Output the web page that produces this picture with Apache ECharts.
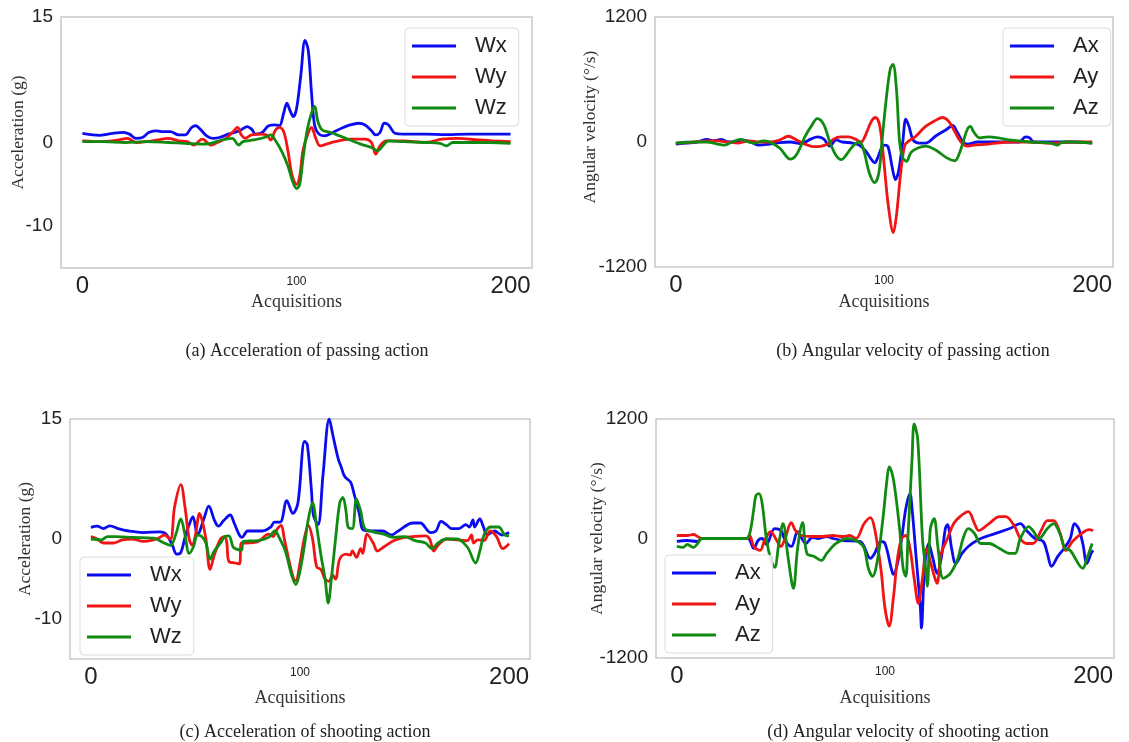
<!DOCTYPE html>
<html>
<head>
<meta charset="utf-8">
<script src="https://cdn.jsdelivr.net/npm/echarts@6/dist/echarts.min.js"></script>
<style>
  html, body { margin: 0; padding: 0; background: #fff; }
  #main { width: 1129px; height: 742px; }
</style>
</head>
<body>
<div id="main"></div>
<script>
// (a) passing, acceleration (g) -- [acquisition, value]
var passWx = [[0,1.1],[5,0.9],[8,0.85],[12,1.0],[16,1.15],[19,1.2],[22,1.0],[25,0.5],[28,0.6],[31,1.2],[34,1.4],[37,1.3],[41,1.3],[45,0.9],[48,0.9],[51,1.8],[53,2.0],[55,1.6],[58,0.8],[61,0.5],[64,0.6],[68,1.0],[71,1.2],[74,1.5],[77,1.9],[79,1.6],[81,1.0],[84,1.2],[87,2.0],[90,2.1],[92,2.0],[94,3.5],[95.5,4.7],[97,3.8],[98.5,3.1],[100,4.0],[102,8],[104,12.2],[105.5,11],[107,6],[108.5,2],[110.5,1.0],[113,0.8],[117,1.2],[121,1.7],[125,2.1],[129,2.3],[132,2.1],[135,1.4],[137,0.9],[139,1.2],[141,2.3],[143,2.1],[146,1.1],[150,1.0],[160,1.0],[170,0.95],[180,1.0],[190,1.0],[200,1.0]];
var passWy = [[0,0.2],[10,0.1],[17,0.3],[21,0.5],[25,0.0],[30,0.1],[35,0.3],[40,0.5],[45,0.2],[49,0.1],[52,-0.3],[56,0.4],[60,-0.3],[63,0.0],[67,0.5],[70,1.2],[72.5,1.8],[74,1.0],[76,0.5],[79,0.9],[83,1.0],[86,0.9],[88,0.3],[90,1.4],[92,1.8],[94,1.3],[96,-1],[98,-4],[100,-5],[101.5,-4],[103,-1],[105,0.8],[107,1.8],[109,0.5],[111,-0.4],[114,-0.2],[118,0.1],[125,0.4],[132,0.4],[135,0.0],[137,-1.4],[139,-0.4],[142,0.2],[150,0.2],[160,0.0],[168,0.4],[175,0.5],[185,0.3],[192,0.2],[200,0.1]];
var passWz = [[0,0.1],[10,0.1],[20,0.0],[30,0.1],[40,0.0],[48,-0.1],[55,-0.2],[60,-0.1],[65,0.3],[70,0.5],[73,-0.3],[75,0.1],[80,0.3],[85,0.6],[88,0.9],[90,0.3],[93,-1.0],[96,-2.8],[98,-4.5],[100,-5.5],[101.5,-5.0],[103,-2.0],[105,1.5],[107,3.5],[108.5,4.3],[110,2.5],[112,1.5],[116,1.2],[120,0.8],[125,0.3],[130,-0.2],[135,-0.6],[138,-1.0],[140,-0.5],[143,0.2],[150,0.1],[160,0.0],[167,-0.1],[170,-0.4],[173,0.0],[180,0.0],[190,0.0],[200,-0.1]];

// (b) passing, angular velocity (deg/s)
var passAx = [[0,-20],[5,-10],[10,0],[15,25],[18,10],[22,25],[25,0],[28,0],[32,20],[36,0],[40,-30],[45,-20],[50,-5],[55,0],[60,-15],[65,30],[68,50],[71,30],[74,-40],[77,20],[80,0],[85,-10],[88,-30],[91,-80],[94,-170],[95.5,-200],[97,-150],[99,-50],[100.5,-30],[102,-50],[104,-250],[105.5,-360],[107,-280],[109,0],[110.5,220],[112,150],[114,20],[117,-10],[120,-10],[125,60],[130,120],[133,160],[135,100],[138,0],[140,-20],[145,0],[150,0],[160,0],[165,0],[168,50],[170,40],[172,0],[180,0],[190,0],[200,-10]];
var passAy = [[0,-10],[10,0],[15,10],[20,10],[25,0],[30,-10],[35,10],[40,0],[45,0],[50,20],[54,55],[58,20],[62,-20],[66,-45],[70,-40],[73,-20],[76,30],[79,50],[83,50],[86,30],[89,0],[91,60],[94,200],[96,235],[98,150],[100,-200],[102,-600],[104.5,-870],[106,-700],[108,-300],[110,-30],[112,10],[115,50],[120,150],[125,210],[128,235],[131,200],[134,100],[137,0],[140,-40],[143,-30],[150,-20],[160,0],[170,0],[180,-10],[190,0],[200,0]];
var passAz = [[0,-10],[10,0],[15,0],[20,-20],[23,-30],[27,0],[31,25],[35,0],[38,-10],[42,10],[45,0],[50,-60],[55,-165],[58,-120],[62,50],[65,150],[68,225],[71,170],[74,0],[77,-130],[79.5,-170],[82,-120],[85,-40],[88,0],[90,-60],[93,-300],[95.5,-390],[97.5,-300],[99,0],[101,400],[103,700],[104.3,745],[106,500],[107.5,0],[109,-150],[110.8,-185],[113,-100],[116,-60],[120,-40],[125,-80],[130,-150],[134,-180],[136,-120],[138,0],[140,120],[141.5,150],[143,100],[146,40],[150,50],[155,40],[160,20],[170,0],[180,-10],[183,-30],[186,0],[190,0],[200,-10]];

// (c) shooting, acceleration (g)
var shootWx = [[0,1.45],[3,1.6],[6,1.3],[9,1.65],[13,1.3],[18,1.0],[25,0.8],[33,0.9],[36,0.6],[39,-0.8],[41,-1.9],[43,-1.7],[45,0.2],[47,1.8],[48.8,2.8],[51,0.5],[54,2.5],[56.4,4.1],[59,2.4],[61,1.6],[63.5,2.3],[66.6,3.0],[68.5,2.0],[71,0.5],[72.2,0.2],[75,1.0],[82,1.0],[86,1.5],[87.8,2.1],[90.5,2.1],[93.7,4.8],[96.6,3.2],[99,4.5],[102.2,12.2],[103.5,11.8],[105.5,6],[106.4,3],[108.6,1.8],[111,8],[114,15],[115.7,13],[118.3,10],[119.7,9],[121.4,7.8],[124.2,7.1],[126,5.5],[128.5,3],[130,1.2],[133.5,1.0],[139.5,1.0],[143.7,0.5],[147,1.0],[154,2.0],[157.5,2.0],[162.4,0.8],[165,1.0],[167.5,2.2],[170,1.8],[172.5,1.3],[176,1.3],[179.3,1.8],[181,1.5],[182.7,2.4],[183.5,1.5],[186,2.5],[187.6,1.6],[189.5,0.5],[193,1.0],[196.6,0.5],[200,0.8]];
var shootWy = [[0,0.3],[3,0],[6,-0.5],[11,-0.5],[15,-0.1],[20,0],[25,-0.3],[30,-0.1],[33,0.2],[35,0.5],[38,0],[40,4],[43,6.8],[45,4],[47,0],[48.5,-0.8],[50,0.5],[52,3.2],[53.5,2],[55,0],[57,-3.8],[59,-2],[62,0],[64,0.3],[65,-0.5],[66,-2.8],[69,-3.0],[71,-3.1],[72,-0.5],[74,-0.5],[80,-0.3],[85,0.6],[87,0.3],[89,1.2],[91,1.7],[92.5,0],[95,-3],[97,-5],[98,-5.2],[100,-3],[102,0],[104,1.7],[106,0],[108,-3.5],[110,-3.8],[112,-5.0],[114,-5.3],[115.5,-4.5],[117,-5],[119,-2.5],[122,-1.9],[124,-2.0],[125,-1.5],[127,-2.3],[129,-1.2],[130,-1.8],[131,-0.5],[132,0.6],[135,-0.5],[137,-1.5],[140,-1.0],[145,-0.2],[150,0.2],[160,0.4],[162,0],[164,-1.5],[166,-0.8],[170,0],[180,-0.2],[182,0.5],[183,-0.5],[185,-0.1],[188,-0.2],[191,1.0],[194,0.3],[197,-1.2],[200,-0.6]];
var shootWz = [[0,0],[5,-0.1],[8,0.3],[12,0.3],[20,0.2],[30,0.1],[35,-0.5],[38,-0.8],[40.5,0.5],[43,2.5],[45,0.5],[47,-1.8],[49,-1],[51,0.5],[53,0.3],[55,-0.5],[57,-2.5],[59,-1.5],[62,-0.5],[64,0.3],[66,0.4],[68,-1.0],[70,-1.3],[72,-1.4],[73,-0.3],[80,-0.2],[85,0.2],[88,1.0],[90,0.2],[93,-1.5],[96,-4.5],[98,-5.7],[100,-4],[102,-1],[104,2.5],[106,4.5],[108,1.5],[110,-2],[112,-5],[113.5,-8.0],[115,-5],[117,0],[119,4.5],[120.5,5.2],[122,3.5],[123,1.5],[125,1.3],[127,5.0],[129,3.5],[131,1.3],[135,0.9],[140,0.6],[145,0.2],[150,0.3],[155,-0.2],[160,-0.5],[163,-1.2],[166,-0.5],[170,0],[175,0],[180,-1.0],[184,-3.0],[186,-1.5],[188,0.5],[191,1.5],[195,1.5],[198,0.5],[200,0.4]];

// (d) shooting, angular velocity (deg/s)
var shootAx = [[0,-30],[5,-20],[10,-30],[12,0],[20,0],[34,0],[37,-100],[39,-20],[41,0],[43,-60],[47,100],[50,80],[52,-20],[55,-80],[58,70],[60,0],[62,-50],[65,10],[68,0],[72,20],[75,0],[80,-20],[88,-30],[93,-200],[95,-150],[98,-30],[100,-50],[103,-300],[104,-360],[106,-250],[108,0],[110,300],[112,450],[113,300],[115,-200],[117,-700],[117.5,-900],[119,-300],[121,-50],[123,-200],[125,-350],[127,-200],[129,100],[130,140],[132,-100],[134,-250],[137,-150],[140,-80],[145,-10],[150,30],[160,100],[165,150],[168,80],[172,0],[176,-30],[178,-150],[180,-280],[183,-180],[186,-100],[189,0],[191,150],[193,100],[195,-50],[197,-250],[199,-150],[200,-120]];
var shootAy = [[0,30],[5,30],[8,40],[10,20],[12,0],[20,0],[34,0],[35,30],[37,-80],[40,-120],[42,-30],[45,70],[48,-20],[50,-80],[52,0],[55,160],[57,80],[60,30],[65,20],[70,20],[75,30],[80,20],[83,30],[86,0],[90,150],[93,210],[95,100],[98,-300],[100,-700],[102,-880],[104,-600],[106,-200],[108,0],[110,30],[112,-100],[114,-400],[116,-650],[118,-400],[120,-100],[122,-250],[124,-400],[125,-450],[127,-150],[130,0],[133,150],[136,220],[140,270],[143,150],[145,80],[150,150],[155,220],[158,220],[162,130],[165,0],[168,-50],[171,-50],[175,80],[178,180],[181,180],[184,60],[187,-120],[190,-30],[195,60],[198,90],[200,80]];
var shootAz = [[0,-80],[3,-90],[5,-60],[8,-90],[10,-50],[12,0],[20,0],[33,0],[35,50],[37,300],[38,430],[39.5,450],[41,350],[43,0],[45,-200],[47,-290],[49,-50],[51,150],[53.5,-200],[56,-500],[58,-100],[60.4,160],[62.5,-150],[66,-180],[69.5,-220],[72,-150],[76.5,-50],[82,0],[87,-30],[90,-100],[92,-300],[94,-380],[96.5,-200],[99,200],[101,600],[102,720],[104,600],[107,100],[108.7,-300],[110,-380],[111,0],[113,800],[114,1150],[115.7,1000],[118,0],[119.5,-300],[120.3,-480],[121.8,100],[123.6,200],[125.5,-100],[128,-400],[131.4,-350],[135,-200],[137.5,0],[140,100],[143,50],[146,-50],[150,-50],[155,-100],[160,-150],[162.5,-150],[165,0],[169,120],[171,80],[174,0],[178,100],[181,150],[184,50],[186.4,-100],[189,-120],[195,-300],[197,-200],[199.5,-50]];

var xTicks = [0, 100, 200];
var accTicks = [15, 0, -10];
var angTicks = [1200, 0, -1200];
var accNames = ['Wx', 'Wy', 'Wz'];
var angNames = ['Ax', 'Ay', 'Az'];
var captions = ['(a) Acceleration of passing action', '(b) Angular velocity of passing action',
                '(c) Acceleration of shooting action', '(d) Angular velocity of shooting action'];

var colors = ['#0b0bf0', '#f01414', '#118a11'];
var serif = 'Liberation Serif';
var sans = 'Liberation Sans';

var grids = [
    {left: 61, top: 17, width: 471, height: 251},
    {left: 655, top: 17, width: 458, height: 250},
    {left: 70, top: 419, width: 460, height: 240},
    {left: 656, top: 419, width: 458, height: 239}
];
var xNameGap = [25, 26, 30, 31];
var yNameGap = [34, 56, 36, 50];
var yNameShift = [20, 30, 0, 0];
var legendPos = [[405, 28], [1003, 28], [80, 557], [665, 555]];
var capPos = [[302, 337], [908, 337], [300, 718], [903, 718]];

var panels = [
    {names: accNames, data: [passWx, passWy, passWz], ticks: accTicks, min: -15, max: 15, yname: 'Acceleration (g)', yfont: 19},
    {names: angNames, data: [passAx, passAy, passAz], ticks: angTicks, min: -1200, max: 1200, yname: 'Angular velocity (°/s)', yfont: 19},
    {names: accNames, data: [shootWx, shootWy, shootWz], ticks: accTicks, min: -15, max: 15, yname: 'Acceleration (g)', yfont: 19},
    {names: angNames, data: [shootAx, shootAy, shootAz], ticks: angTicks, min: -1200, max: 1200, yname: 'Angular velocity (°/s)', yfont: 19}
];

var option = {
    backgroundColor: '#fff',
    animation: false,
    grid: [], xAxis: [], yAxis: [], series: [], legend: [], title: []
};

panels.forEach(function (p, i) {
    option.grid.push(Object.assign({show: true, borderColor: '#c9c9c9', borderWidth: 1.5, containLabel: false}, grids[i]));
    option.xAxis.push({
        type: 'value', gridIndex: i, min: -10, max: 210,
        name: 'Acquisitions', nameLocation: 'middle', nameGap: xNameGap[i], nameMoveOverlap: false,
        nameTextStyle: {fontFamily: serif, fontSize: 18, color: '#333'},
        axisLine: {show: false}, axisTick: {show: false}, splitLine: {show: false},
        axisLabel: {
            customValues: xTicks, margin: 6, verticalAlign: 'top',
            formatter: function (v) { return v === 100 ? '{s|100}' : '{b|' + v + '}'; },
            rich: {
                s: {fontFamily: sans, fontSize: 12, color: '#222', verticalAlign: 'top', padding: [2, 0, 0, 0]},
                b: {fontFamily: sans, fontSize: 24, color: '#222', verticalAlign: 'top'}
            }
        }
    });
    option.yAxis.push({
        type: 'value', gridIndex: i, min: p.min, max: p.max,
        name: p.yname, nameLocation: 'middle', nameRotate: 90, nameGap: yNameGap[i], nameMoveOverlap: false,
        nameTextStyle: {fontFamily: serif, fontSize: 17.5, color: '#333', padding: [0, 0, 0, yNameShift[i]]},
        axisLine: {show: false}, axisTick: {show: false}, splitLine: {show: false},
        axisLabel: {
            customValues: p.ticks, margin: 8, fontFamily: sans, fontSize: p.yfont, color: '#222',
            formatter: function (v) { return String(v); }
        }
    });
    p.names.forEach(function (n, k) {
        option.series.push({
            name: n, type: 'line', xAxisIndex: i, yAxisIndex: i,
            data: p.data[k], smooth: 0.35, showSymbol: false,
            color: colors[k], lineStyle: {width: 2.8, color: colors[k]}
        });
    });
    option.legend.push({
        data: p.names, orient: 'vertical', left: legendPos[i][0], top: legendPos[i][1],
        icon: 'rect', itemWidth: 44, itemHeight: 3, itemGap: 9,
        padding: [7, 12, 7, 7],
        borderColor: '#dcdcdc', borderWidth: 1, borderRadius: 4, backgroundColor: 'rgba(255,255,255,0.85)',
        textStyle: {fontFamily: sans, fontSize: 22, color: '#222', lineHeight: 22, padding: [0, 0, 0, 14]},
        selectedMode: false
    });
    option.title.push({
        text: captions[i], left: capPos[i][0], top: capPos[i][1], textAlign: 'center',
        textStyle: {fontFamily: serif, fontSize: 18, fontWeight: 'normal', color: '#222'}
    });
});

var chart = echarts.init(document.getElementById('main'));
chart.setOption(option);
</script>
</body>
</html>
